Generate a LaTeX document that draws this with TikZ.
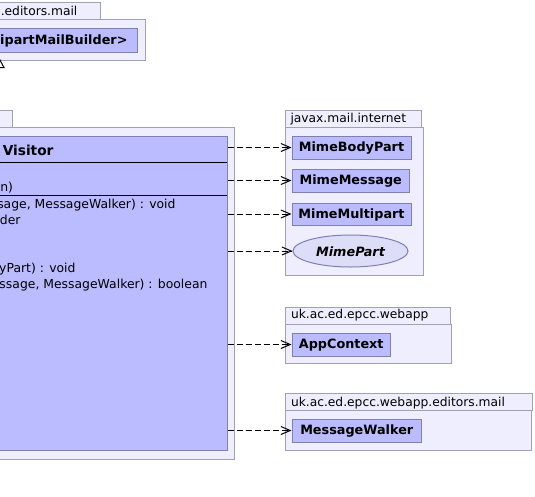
\documentclass[tikz,border=0pt]{standalone}
\usepackage{fontspec}
\setmainfont{DejaVu Sans}
\usetikzlibrary{arrows.meta,fit,shapes.geometric}
\definecolor{pkgfill}{RGB}{238,238,255}
\definecolor{pkgdraw}{RGB}{160,160,184}
\definecolor{clsfill}{RGB}{187,187,255}
\definecolor{clsdraw}{RGB}{128,128,176}
\definecolor{ifill}{RGB}{221,221,248}
\begin{document}
\begin{tikzpicture}[x=0.75pt,y=-0.75pt,line width=0.75pt,
  pkg/.style={draw=pkgdraw,fill=pkgfill},
  cls/.style={draw=clsdraw,fill=clsfill,inner sep=0pt},
  iface/.style={ellipse,draw=clsdraw,fill=ifill,inner sep=0pt,minimum width=86.25pt,minimum height=24pt},
  pkgname/.style={font=\fontsize{9.2pt}{10pt}\selectfont,anchor=base west,inner sep=0pt},
  clsname/.style={font=\fontsize{9.6pt}{11pt}\selectfont\bfseries,anchor=base,inner sep=0pt},
  member/.style={font=\fontsize{9.3pt}{10pt}\selectfont,anchor=base east,inner sep=0pt},
  conn/.style={dash pattern=on 4.5pt off 2.25pt,-{Straight Barb[length=7pt,width=6pt]}},
  gen/.style={-{Triangle[open,length=7.9pt,width=8.25pt]}}]
\useasboundingbox (0,0) rectangle (535,496);

% top-left package
\draw[pkg] (-60,2) rectangle (100,19);
\draw[pkg] (-60,19) rectangle (145.5,60);
\node[cls,fit={(-50,28)(137,52)}] (builder) {};
\node[clsname,anchor=base east] at (128,44) {ipartMailBuilder>};
\node[pkgname] at (0.3,16) {.editors.mail};

% Visitor package
\draw[pkg] (-60,110) rectangle (12,127);
\draw[pkg] (-400,127) rectangle (234.5,459);
\node[cls,fit={(-390,136)(227,450)}] (vis) {};
\node[font=\fontsize{10.3pt}{12pt}\selectfont\bfseries,anchor=base east,inner sep=0pt] at (54,155) {Visitor};
\draw (-390,162) -- (227,162);
\draw (-390,195) -- (227,195);
\node[member] at (13.5,191) {n)};
\node[member] at (176,208) {ssage, MessageWalker) : void};
\node[member] at (21,224) {der};
\node[member] at (76,272) {dyPart) : void};
\node[member] at (208,288) {ssage, MessageWalker) : boolean};

% javax.mail.internet
\draw[pkg] (285,110) rectangle (421.5,127);
\draw[pkg] (285,127) rectangle (423,275);
\node[pkgname] at (290,122) {javax.mail.internet};
\node[cls,fit={(292,136)(411,159)}] (mbp) {};
\node[clsname] at (351.5,151) {MimeBodyPart};
\node[cls,fit={(292,169)(409.5,192)}] (mm) {};
\node[clsname] at (350.75,184.5) {MimeMessage};
\node[cls,fit={(292,203)(411,225)}] (mmp) {};
\node[clsname] at (351.5,218) {MimeMultipart};
\node[iface] (mp) at (350.5,251) {};
\node[clsname,font=\fontsize{9.6pt}{11pt}\selectfont\bfseries\itshape] at (350.5,256) {MimePart};

% uk.ac.ed.epcc.webapp
\draw[pkg] (285,307) rectangle (450,324);
\draw[pkg] (285,324) rectangle (451.5,363);
\node[pkgname] at (290.5,318.5) {uk.ac.ed.epcc.webapp};
\node[cls,fit={(292,333)(390.5,356)}] (app) {};
\node[clsname] at (341.25,348) {AppContext};

% uk.ac.ed.epcc.webapp.editors.mail
\draw[pkg] (285,393) rectangle (532,410.5);
\draw[pkg] (285,410.5) rectangle (531.5,450);
\node[pkgname] at (290.5,406) {uk.ac.ed.epcc.webapp.editors.mail};
\node[cls,fit={(292,419)(421.5,442)}] (mw) {};
\node[clsname] at (356.75,434.5) {MessageWalker};

% generalization (source off-picture)
\coordinate (gsrc) at (-0.8,127);
\coordinate (gtip) at (-0.8,57.5);
\draw[gen] (gsrc) -- (gtip);

% dependencies
\draw[conn] (vis.east |- mbp.west) -- (mbp.west);
\draw[conn] (vis.east |- mm.west) -- (mm.west);
\draw[conn] (vis.east |- mmp.west) -- (mmp.west);
\draw[conn] (vis.east |- mp.west) -- (mp.west);
\draw[conn] (vis.east |- app.west) -- (app.west);
\draw[conn] (vis.east |- mw.west) -- (mw.west);
\end{tikzpicture}
\end{document}
